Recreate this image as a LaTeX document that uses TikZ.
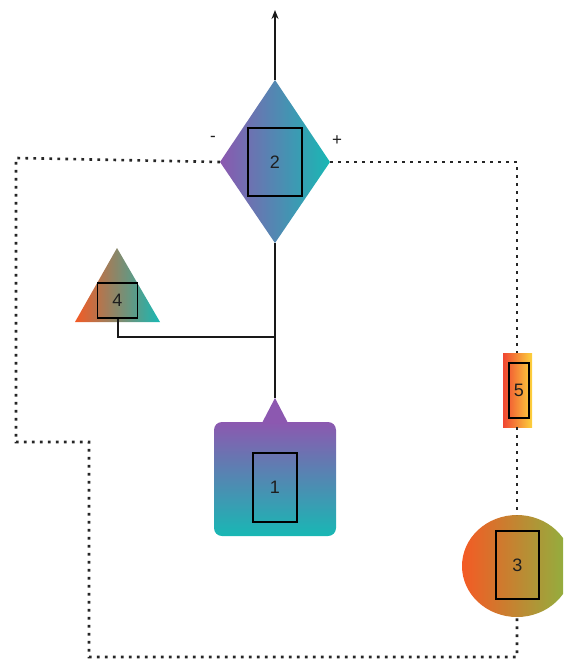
\documentclass[tikz,border=0pt]{standalone}
\usepackage{fontspec}
\setmainfont{Liberation Sans}
\usetikzlibrary{arrows.meta}
\definecolor{cpurple}{RGB}{140,88,176}
\definecolor{cblue}{RGB}{88,128,200}
\definecolor{cteal}{RGB}{24,184,180}
\definecolor{corange}{RGB}{244,90,36}
\definecolor{cgreen}{RGB}{140,180,64}
\definecolor{cred}{RGB}{240,70,50}
\definecolor{cyellow}{RGB}{252,210,60}
\definecolor{txt}{RGB}{30,30,30}
\tikzset{
  inner/.style={draw=black, line width=1.6pt, inner sep=0pt, text=txt, font=\fontsize{18}{20}\selectfont},
  wire/.style={line width=2pt, draw=black!90},
  dotwire/.style={line width=2.6pt, draw=black!85, dash pattern=on 2.6pt off 5.4pt},
  sign/.style={text=txt, font=\fontsize{17}{19}\selectfont},
}
\begin{document}
\begin{tikzpicture}[x=1pt,y=-1pt]
\useasboundingbox (0,0) rectangle (563,662);
\clip (0,0) rectangle (563,662);
% coordinates
\coordinate (dtop) at (275,80);
\coordinate (dbot) at (275,243);
\coordinate (dleft) at (220,162);
\coordinate (dright) at (330,162);
\coordinate (arrowend) at (275,10);
\coordinate (tip1) at (275,398);
\coordinate (join) at (275,337);
\coordinate (c4) at (117.5,337);
\coordinate (lt) at (16,158);
\coordinate (lb) at (16,442);
\coordinate (lm) at (89,442);
\coordinate (bl) at (89,657);
\coordinate (br) at (517,657);
\coordinate (rt) at (517,162);
% diamond 2
\shade[left color=cpurple, middle color=cblue, right color=cteal] (dtop) -- (dright) -- (dbot) -- (dleft) -- cycle;
\node[inner, minimum width=54pt, minimum height=68pt] (n2) at (275,162) {2};
\node[sign] (minus) at (213,139) {-};
\node[sign] (plus) at (337,141) {+};
% triangle 4
\shade[left color=corange, right color=cteal] (117,248) -- (160,322) -- (75,322) -- cycle;
\node[inner, minimum width=40pt, minimum height=35pt] (n4) at (117.5,300.5) {4};
% node 1
\shade[top color=cpurple, middle color=cblue, bottom color=cteal, rounded corners=8pt] (214,422) rectangle (336,536);
\fill[cpurple] (262,423) -- (tip1) -- (288,423) -- cycle;
\node[inner, minimum width=44pt, minimum height=69pt] (n1) at (275,487.5) {1};
% resistor 5
\shade[left color=cred, middle color={rgb,255:red,246;green,140;blue,50}, right color=cyellow] (503,353) rectangle (532,427);
\node[inner, minimum width=20pt, minimum height=55pt] (n5) at (519,390.5) {5};
% circle 3
\shade[left color=corange, right color=cgreen] (517,566) ellipse [x radius=55, y radius=51];
\node[inner, minimum width=43pt, minimum height=68pt] (n3) at (517.5,565) {3};
% solid wires
\draw[wire, -{Stealth[length=9pt,width=7pt]}] (dtop) -- (arrowend);
\draw[wire] (dbot) -- (tip1);
\draw[wire] (n4.south) -- (c4) -- (join);
% dotted wires
\draw[dotwire] (dleft) -- (lt) -- (lb) -- (lm) -- (bl) -- (br) -- (517,617);
\draw[dotwire] (dright) -- (rt) -- (517,353);
\draw[dotwire] (517,427) -- (517,515);
\end{tikzpicture}
\end{document}
